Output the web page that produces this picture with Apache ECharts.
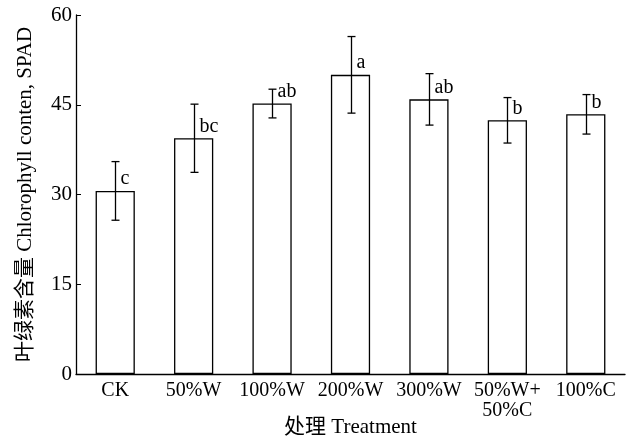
<!DOCTYPE html>
<html><head><meta charset="utf-8">
<script src="https://cdn.jsdelivr.net/npm/echarts@6/dist/echarts.min.js"></script>
<style>html,body{margin:0;padding:0;background:#fff}#c{width:633px;height:441px}</style>
</head><body><div id="c"></div>
<script>
const categories = ['CK', '50%W', '100%W', '200%W', '300%W', '50%W+\n50%C', '100%C'];
const means = [30.6, 39.4, 45.2, 50.0, 45.9, 42.4, 43.4];
const errors = [4.9, 5.7, 2.4, 6.4, 4.3, 3.8, 3.3];
const letters = ['c', 'bc', 'ab', 'a', 'ab', 'b', 'b'];
const yTicks = [0, 15, 30, 45, 60];

const FONT = '"Liberation Serif", "Noto Sans CJK SC", serif';
const chart = echarts.init(document.getElementById('c'), null, {renderer: 'canvas'});
chart.setOption({
  animation: false,
  backgroundColor: '#fff',
  grid: {left: 76, right: 8, top: 15, bottom: 67, containLabel: false, outerBoundsMode: 'none'},
  xAxis: {
    type: 'category', data: categories,
    axisLine: {lineStyle: {color: '#000', width: 1.3}},
    axisTick: {inside: true, length: 5, alignWithLabel: true, lineStyle: {color: '#000'}},
    axisLabel: {color: '#000', fontFamily: FONT, fontSize: 20, margin: 7, lineHeight: 20, interval: 0},
    name: '处理 Treatment', nameLocation: 'middle', nameGap: 43, nameMoveOverlap: false,
    nameTextStyle: {color: '#000', fontFamily: FONT, fontSize: 21}
  },
  yAxis: {
    type: 'value', min: yTicks[0], max: yTicks[yTicks.length - 1], interval: 15,
    splitLine: {show: false},
    axisLine: {show: true, lineStyle: {color: '#000', width: 1.3}},
    axisTick: {show: true, inside: true, length: 5, lineStyle: {color: '#000'}},
    axisLabel: {color: '#000', fontFamily: FONT, fontSize: 21, margin: 4},
    name: '叶绿素含量 Chlorophyll conten, SPAD', nameLocation: 'middle', nameGap: 40, nameMoveOverlap: false,
    nameTextStyle: {color: '#000', fontFamily: FONT, fontSize: 21}
  },
  series: [
    {
      type: 'bar', data: means, barWidth: '50%',
      itemStyle: {color: '#fff', borderColor: '#000', borderWidth: 1.3}
    },
    {
      type: 'custom',
      data: means.map((m, i) => [i, m, errors[i]]),
      renderItem: function (params, api) {
        const x = api.value(0), m = api.value(1), e = api.value(2);
        const top = api.coord([x, m + e]);
        const bot = api.coord([x, m - e]);
        const mid = api.coord([x, m]);
        const cx = Math.round(top[0]) + 0.5;
        const cap = 4;
        const style = {stroke: '#000', lineWidth: 1.3};
        return {
          type: 'group',
          children: [
            {type: 'line', shape: {x1: cx, y1: top[1], x2: cx, y2: bot[1]}, style},
            {type: 'line', shape: {x1: cx - cap, y1: top[1], x2: cx + cap, y2: top[1]}, style},
            {type: 'line', shape: {x1: cx - cap, y1: bot[1], x2: cx + cap, y2: bot[1]}, style},
            {type: 'text', style: {
              text: letters[params.dataIndex], x: cx + 5, y: mid[1] - 12,
              fill: '#000', font: '20px ' + FONT, textAlign: 'left', textVerticalAlign: 'middle'
            }}
          ]
        };
      },
      z: 5
    }
  ]
});
</script></body></html>
